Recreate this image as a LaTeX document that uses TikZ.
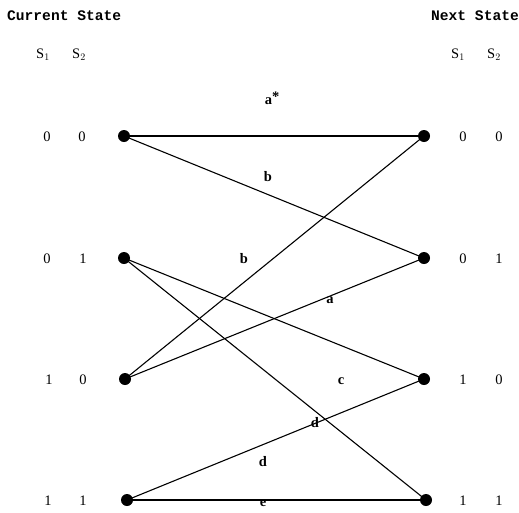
\documentclass[tikz,border=0pt]{standalone}
\usepackage{fontspec}
\setmainfont{Liberation Serif}
\newfontfamily\headfont{Liberation Mono}
\begin{document}
\begin{tikzpicture}[x=1pt,y=-1pt,
  dot/.style={circle,fill=black,inner sep=0pt,minimum size=12pt},
  edge/.style={line width=1.1pt},
  hedge/.style={line width=1.6pt},
  lab/.style={font=\fontsize{14.5}{16}\selectfont\bfseries,inner sep=0pt},
  head/.style={font=\headfont\fontsize{14.6}{16}\selectfont\bfseries,inner sep=0pt},
  bit/.style={font=\fontsize{14.5}{16}\selectfont,inner sep=0pt}]
\useasboundingbox (0,0) rectangle (519,512);
% headings
\node[head,anchor=west] (ch) at (7,16) {Current State};
\node[head,anchor=east] (nh) at (519,16) {Next State};
\node[bit] (cs1) at (43,55) {S$_1$};
\node[bit] (cs2) at (79,55) {S$_2$};
\node[bit] (ns1) at (458,55) {S$_1$};
\node[bit] (ns2) at (494,55) {S$_2$};
% left nodes
\node[dot] (L0) at (124,136) {};
\node[dot] (L1) at (124,258) {};
\node[dot] (L2) at (125,379) {};
\node[dot] (L3) at (127,500) {};
% right nodes
\node[dot] (R0) at (424,136) {};
\node[dot] (R1) at (424,258) {};
\node[dot] (R2) at (424,379) {};
\node[dot] (R3) at (426,500) {};
% state bits (left)
\node[bit] (l0a) at (47,137) {0};
\node[bit] (l0b) at (82,137) {0};
\node[bit] (l1a) at (47,259) {0};
\node[bit] (l1b) at (83,259) {1};
\node[bit] (l2a) at (49,380) {1};
\node[bit] (l2b) at (83,380) {0};
\node[bit] (l3a) at (48,501) {1};
\node[bit] (l3b) at (83,501) {1};
% state bits (right)
\node[bit] (r0a) at (463,137) {0};
\node[bit] (r0b) at (499,137) {0};
\node[bit] (r1a) at (463,259) {0};
\node[bit] (r1b) at (499,259) {1};
\node[bit] (r2a) at (463,380) {1};
\node[bit] (r2b) at (499,380) {0};
\node[bit] (r3a) at (463,501) {1};
\node[bit] (r3b) at (499,501) {1};
% edges
\draw[hedge] (L0.center) -- (R0.center);
\draw[edge] (L0.center) -- (R1.center);
\draw[edge] (L1.center) -- (R2.center);
\draw[edge] (L1.center) -- (R3.center);
\draw[edge] (L2.center) -- (R0.center);
\draw[edge] (L2.center) -- (R1.center);
\draw[edge] (L3.center) -- (R2.center);
\draw[hedge] (L3.center) -- (R3.center);
% labels
\node[lab] (la) at (272,98) {a\raisebox{3pt}{*}};
\node[lab] (lb1) at (268,177) {b};
\node[lab] (lb2) at (244,259) {b};
\node[lab] (la2) at (330,300) {a};
\node[lab] (lc) at (341,381) {c};
\node[lab] (ld1) at (315,423) {d};
\node[lab] (ld2) at (263,462) {d};
\node[lab] (le) at (263,503) {e};
\end{tikzpicture}
\end{document}
